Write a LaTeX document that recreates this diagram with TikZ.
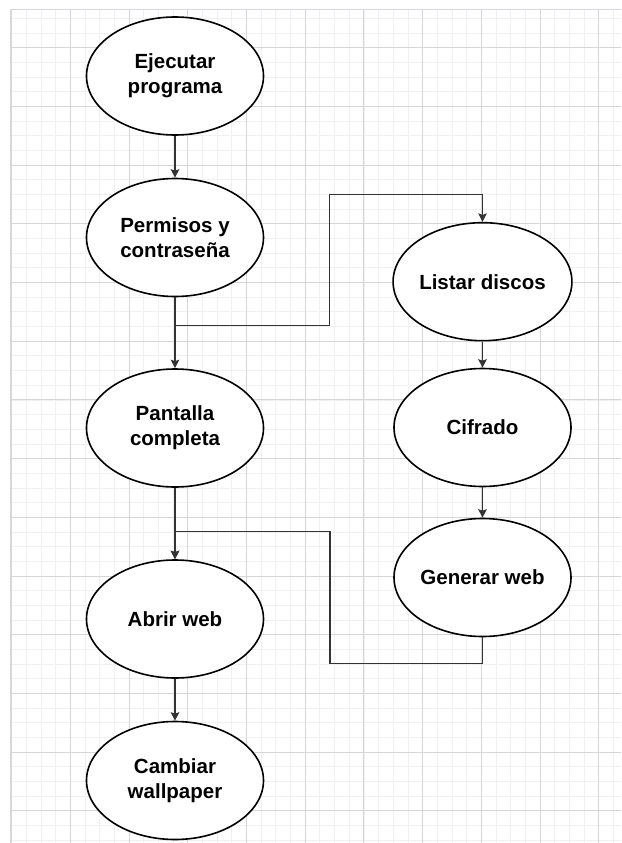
\documentclass[tikz,border=0pt]{standalone}
\usepackage{fontspec}
\setmainfont{Liberation Sans}
\usetikzlibrary{shapes.geometric,arrows.meta}

\definecolor{minorline}{HTML}{F0F0F0}
\definecolor{majorline}{HTML}{D6D6D6}
\definecolor{frameline}{HTML}{D8D8DE}
\definecolor{connline}{HTML}{333333}

\tikzset{
  minorgrid/.style={draw=minorline, line width=1},
  majorgrid/.style={draw=majorline, line width=1},
  stepnode/.style={ellipse, draw=black, line width=1.6, fill=white,
    minimum width=177, minimum height=118, inner sep=0,
    align=center, font=\fontsize{20.5}{25}\selectfont\bfseries},
  conn/.style={draw=connline, line width=1.2,
    -{Stealth[length=8.5,width=8.5,inset=1.5]}}
}

\begin{document}
\begin{tikzpicture}[x=1pt, y=-1pt]
  \useasboundingbox (0,0) rectangle (621,843);
  \fill[white] (0,0) rectangle (621,843);

  % background grid, lines snapped to whole units
  \begin{scope}
    \clip (10.5,9) rectangle (621,843);
    \foreach \i in {0,...,41}
      \draw[minorgrid] ({round(11.3+14.675*\i)+0.5},9) -- ({round(11.3+14.675*\i)+0.5},843);
    \foreach \i in {0,...,56}
      \draw[minorgrid] (10.5,{round(17.95+14.675*\i)+0.5}) -- (621,{round(17.95+14.675*\i)+0.5});
    \foreach \i in {0,...,10}
      \draw[majorgrid] ({round(11.3+58.7*\i)+0.5},9) -- ({round(11.3+58.7*\i)+0.5},843);
    \foreach \i in {0,...,13}
      \draw[majorgrid] (10.5,{round(47.3+58.7*\i)+0.5}) -- (621,{round(47.3+58.7*\i)+0.5});
  \end{scope}
  \draw[frameline, line width=1] (10.5,843) -- (10.5,9.5) -- (621,9.5);

  % process steps
  \node[stepnode] (ej)     at (175,76)    {Ejecutar\\programa};
  \node[stepnode] (perm)   at (175,237.5) {Permisos y\\contraseña};
  \node[stepnode] (pant)   at (175,428)   {Pantalla\\completa};
  \node[stepnode] (abrir)  at (175,619)   {Abrir web};
  \node[stepnode] (camb)   at (175,780.5) {Cambiar\\wallpaper};
  \node[stepnode] (listar) at (482.5,281.7) {Listar discos};
  \node[stepnode] (cif)    at (482.5,427.5) {Cifrado};
  \node[stepnode] (gen)    at (482.5,577.5) {Generar web};

  % bends of the routed connectors
  \coordinate (k1) at (329.5,325.7);
  \coordinate (k2) at (329.5,194.3);
  \coordinate (k3) at (330,663.3);
  \coordinate (k4) at (330,531.7);

  % connectors
  \draw[conn] (ej) -- (perm);
  \draw[conn] (perm) -- (pant);
  \draw[conn] (perm.south) |- (k1) -- (k2) -| (listar.north);
  \draw[conn] (listar) -- (cif);
  \draw[conn] (cif) -- (gen);
  \draw[conn] (gen.south) |- (k3) -- (k4) -| (abrir.north);
  \draw[conn] (pant) -- (abrir);
  \draw[conn] (abrir) -- (camb);
\end{tikzpicture}
\end{document}
